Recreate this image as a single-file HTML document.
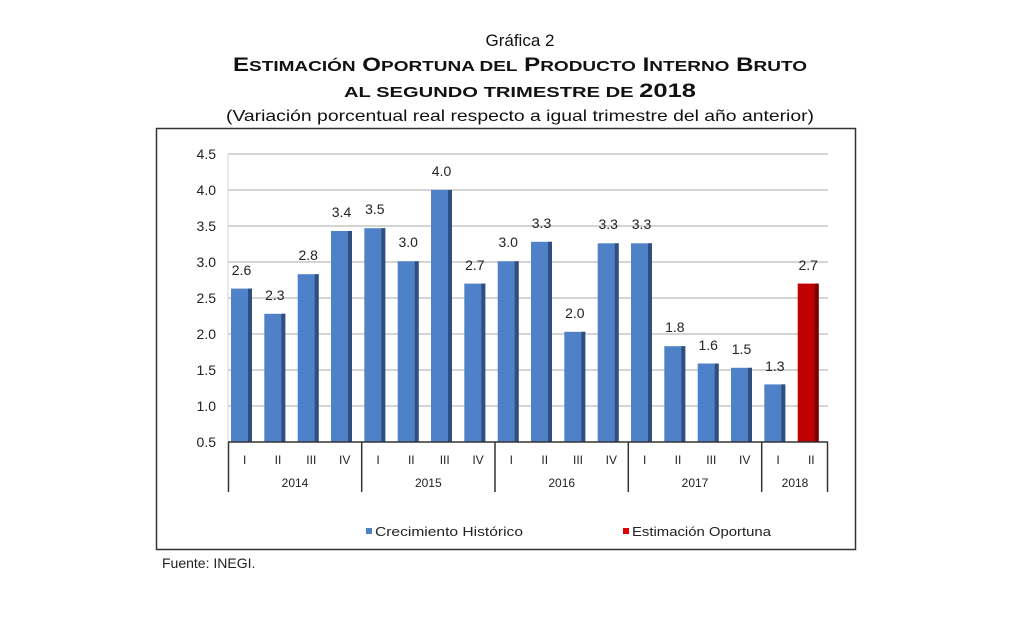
<!DOCTYPE html>
<html><head><meta charset="utf-8"><style>
html,body{margin:0;padding:0;background:#fff;}
svg{display:block;font-family:"Liberation Sans",Arial,sans-serif;}
</style></head><body>
<svg width="1024" height="629" viewBox="0 0 1024 629" xmlns="http://www.w3.org/2000/svg">
<rect width="1024" height="629" fill="#fff"/>
<text x="520" y="46" font-size="17" text-anchor="middle" fill="#111">Gráfica 2</text>
<text x="520" y="71" font-size="19" font-weight="bold" text-anchor="middle" fill="#111" textLength="574" lengthAdjust="spacingAndGlyphs">E<tspan font-size="15">STIMACIÓN</tspan> O<tspan font-size="15">PORTUNA DEL</tspan> P<tspan font-size="15">RODUCTO</tspan> I<tspan font-size="15">NTERNO</tspan> B<tspan font-size="15">RUTO</tspan></text>
<text x="520" y="97" font-size="15" font-weight="bold" text-anchor="middle" fill="#111" textLength="352" lengthAdjust="spacingAndGlyphs">AL SEGUNDO TRIMESTRE DE <tspan font-size="19">2018</tspan></text>
<text x="520" y="121" font-size="16" text-anchor="middle" fill="#111" textLength="588" lengthAdjust="spacingAndGlyphs">(Variación porcentual real respecto a igual trimestre del año anterior)</text>
<rect x="156.5" y="128.5" width="699" height="421" fill="#fff" stroke="#333" stroke-width="1.5"/>
<g stroke="#d4d4d4" stroke-width="2">
<line x1="228" y1="154" x2="828" y2="154"/><line x1="228" y1="190" x2="828" y2="190"/><line x1="228" y1="226" x2="828" y2="226"/><line x1="228" y1="262" x2="828" y2="262"/><line x1="228" y1="298" x2="828" y2="298"/><line x1="228" y1="334" x2="828" y2="334"/><line x1="228" y1="370" x2="828" y2="370"/><line x1="228" y1="406" x2="828" y2="406"/>
</g>
<line x1="228" y1="154" x2="228" y2="442" stroke="#d4d4d4" stroke-width="1"/>
<g font-size="14" fill="#222" text-anchor="end">
<text x="216" y="159">4.5</text><text x="216" y="195">4.0</text><text x="216" y="231">3.5</text><text x="216" y="267">3.0</text><text x="216" y="303">2.5</text><text x="216" y="339">2.0</text><text x="216" y="375">1.5</text><text x="216" y="411">1.0</text><text x="216" y="447">0.5</text>
</g>
<g fill="#4f81c8">
<rect x="231" y="288.6" width="21" height="153.4"/><rect x="264.3" y="313.8" width="21" height="128.2"/><rect x="297.7" y="274.2" width="21" height="167.8"/><rect x="331" y="231" width="21" height="211"/><rect x="364.3" y="228.2" width="21" height="213.8"/><rect x="397.7" y="261.3" width="21" height="180.7"/><rect x="431" y="190" width="21" height="252"/><rect x="464.3" y="283.6" width="21" height="158.4"/><rect x="497.7" y="261.3" width="21" height="180.7"/><rect x="531" y="241.8" width="21" height="200.2"/><rect x="564.3" y="331.8" width="21" height="110.2"/><rect x="597.7" y="243.3" width="21" height="198.7"/><rect x="631" y="243.3" width="21" height="198.7"/><rect x="664.3" y="346.2" width="21" height="95.8"/><rect x="697.7" y="363.5" width="21" height="78.5"/><rect x="731" y="367.8" width="21" height="74.2"/><rect x="764.3" y="384.4" width="21" height="57.6"/>
</g>
<g fill="#2f4f80">
<rect x="248" y="288.6" width="4" height="153.4"/><rect x="281.3" y="313.8" width="4" height="128.2"/><rect x="314.7" y="274.2" width="4" height="167.8"/><rect x="348" y="231" width="4" height="211"/><rect x="381.3" y="228.2" width="4" height="213.8"/><rect x="414.7" y="261.3" width="4" height="180.7"/><rect x="448" y="190" width="4" height="252"/><rect x="481.3" y="283.6" width="4" height="158.4"/><rect x="514.7" y="261.3" width="4" height="180.7"/><rect x="548" y="241.8" width="4" height="200.2"/><rect x="581.3" y="331.8" width="4" height="110.2"/><rect x="614.7" y="243.3" width="4" height="198.7"/><rect x="648" y="243.3" width="4" height="198.7"/><rect x="681.3" y="346.2" width="4" height="95.8"/><rect x="714.7" y="363.5" width="4" height="78.5"/><rect x="748" y="367.8" width="4" height="74.2"/><rect x="781.3" y="384.4" width="4" height="57.6"/>
</g>
<rect x="797.7" y="283.6" width="21" height="158.4" fill="#c00000"/>
<rect x="814.7" y="283.6" width="4" height="158.4" fill="#7a0000"/>
<g font-size="14" fill="#222" text-anchor="middle">
<text x="241.5" y="275">2.6</text><text x="274.8" y="300">2.3</text><text x="308.2" y="260">2.8</text><text x="341.5" y="217">3.4</text><text x="374.8" y="214">3.5</text><text x="408.2" y="247">3.0</text><text x="441.5" y="176">4.0</text><text x="474.8" y="270">2.7</text><text x="508.2" y="247">3.0</text><text x="541.5" y="228">3.3</text><text x="574.8" y="318">2.0</text><text x="608.2" y="229">3.3</text><text x="641.5" y="229">3.3</text><text x="674.8" y="332">1.8</text><text x="708.2" y="350">1.6</text><text x="741.5" y="354">1.5</text><text x="774.8" y="371">1.3</text><text x="808.2" y="270">2.7</text>
</g>
<line x1="228" y1="442" x2="828" y2="442" stroke="#333" stroke-width="1.5"/>
<g stroke="#333" stroke-width="1.5">
<line x1="228.5" y1="442" x2="228.5" y2="492"/><line x1="361.7" y1="442" x2="361.7" y2="492"/><line x1="495" y1="442" x2="495" y2="492"/><line x1="628.3" y1="442" x2="628.3" y2="492"/><line x1="761.7" y1="442" x2="761.7" y2="492"/><line x1="827.5" y1="442" x2="827.5" y2="492"/>
</g>
<g font-size="12" fill="#222" text-anchor="middle">
<text x="244.7" y="464">I</text><text x="278" y="464">II</text><text x="311.3" y="464">III</text><text x="344.7" y="464">IV</text>
<text x="378" y="464">I</text><text x="411.3" y="464">II</text><text x="444.7" y="464">III</text><text x="478" y="464">IV</text>
<text x="511.3" y="464">I</text><text x="544.7" y="464">II</text><text x="578" y="464">III</text><text x="611.3" y="464">IV</text>
<text x="644.7" y="464">I</text><text x="678" y="464">II</text><text x="711.3" y="464">III</text><text x="744.7" y="464">IV</text>
<text x="778" y="464">I</text><text x="811.3" y="464">II</text>
<text x="295" y="487">2014</text><text x="428.3" y="487">2015</text><text x="561.7" y="487">2016</text><text x="695" y="487">2017</text><text x="795" y="487">2018</text>
</g>
<rect x="366" y="528" width="6" height="6" fill="#4f81c8"/>
<text x="375" y="536" font-size="13" fill="#222" textLength="148" lengthAdjust="spacingAndGlyphs">Crecimiento  Histórico</text>
<rect x="623" y="528" width="6" height="6" fill="#e00000"/>
<text x="632" y="536" font-size="13" fill="#222" textLength="139" lengthAdjust="spacingAndGlyphs">Estimación Oportuna</text>
<text x="162" y="568" font-size="14" fill="#222">Fuente: INEGI.</text>
</svg>
</body></html>
